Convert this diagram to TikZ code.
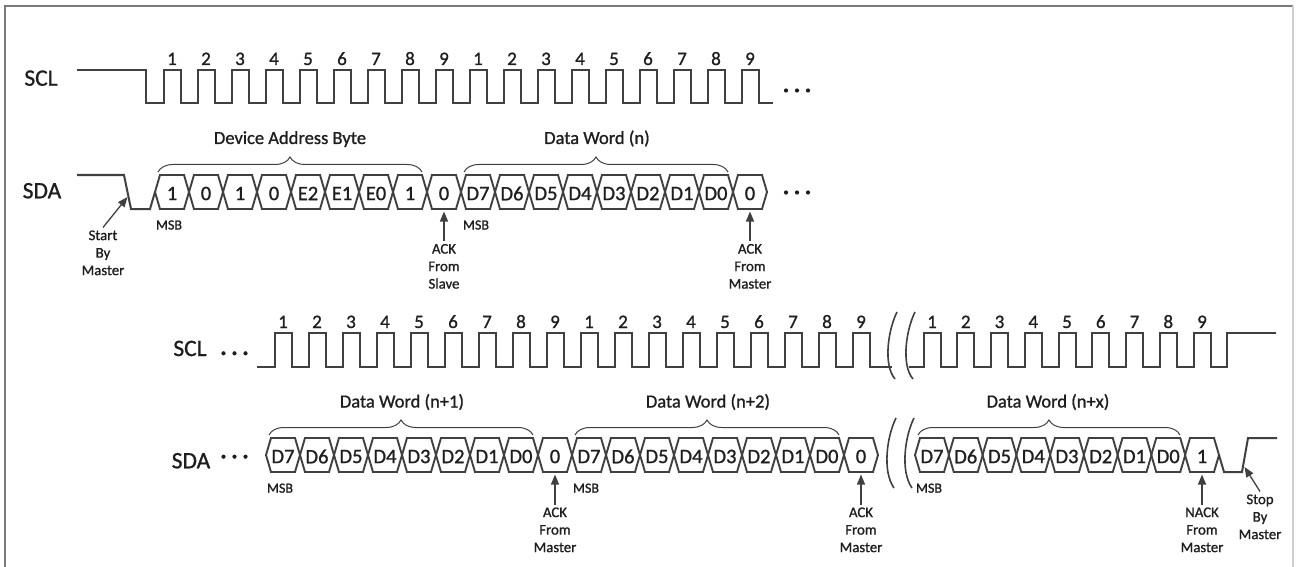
\documentclass[tikz,border=0pt]{standalone}
\usepackage{fontspec}
\setmainfont{Carlito}[RawFeature={embolden=1.0}]
\usetikzlibrary{arrows.meta,decorations.pathreplacing,calc}
\definecolor{wave}{HTML}{404040}
\definecolor{ink}{HTML}{1E1E1E}
\definecolor{framecol}{HTML}{7A7A7A}
\definecolor{framelight}{HTML}{D0D0D0}
\newcommand\bitcell[4]{%
  \draw[cell] ({#1-17},{#2+17}) -- ({#1-12},{#2}) -- ({#1+12},{#2}) -- ({#1+17},{#2+17}) -- ({#1+12},{#2+34}) -- ({#1-12},{#2+34}) -- cycle;
  \node[bit] (#4) at ({#1},{#2+18.5}) {#3};}
\begin{document}
\begin{tikzpicture}[x=1pt,y=-1pt,
 sig/.style={draw=wave,line width=2pt,line join=miter},
 cell/.style={draw=wave,line width=1.9pt,line join=miter},
 num/.style={font=\fontsize{19}{20}\selectfont,text=ink,inner sep=0pt,anchor=base},
 bit/.style={font=\fontsize{20.5}{22}\selectfont,text=ink,inner sep=0pt},
 signame/.style={font=\fontsize{23.5}{26}\selectfont,text=ink,inner sep=0pt,anchor=base},
 title/.style={font=\fontsize{18.5}{20}\selectfont,text=ink,inner sep=0pt,anchor=base},
 msb/.style={font=\fontsize{14}{15}\selectfont,text=ink,inner sep=0pt,anchor=base},
 note/.style={font=\fontsize{14.8}{17.5}\selectfont,text=ink,inner sep=0pt,outer sep=3pt,align=center,anchor=north},
 pointer/.style={draw=wave,line width=1.3pt,-{Triangle[width=8pt,length=10pt]}},
 grp/.style={draw=wave,line width=1pt,decorate,decoration={brace,amplitude=15pt}},
 cut/.style={draw=wave,line width=1.6pt},
 dot/.style={fill=ink},
]
\useasboundingbox (0,0) rectangle (1296,567);
% frame
\draw[framecol,line width=2pt] (5,567) -- (5,6) -- (1293,6);
\draw[framelight,line width=1.5pt] (1293,6) -- (1293,567);

% ---------- top row ----------
\node[signame] (sclA) at (41,85.7) {SCL};
\node[signame] (sdaA) at (42,198.3) {SDA};
\draw[sig] (77,70) -- (146,70) -- (146,103)
  foreach \k in {0,...,17} { -- ({163.5+34*\k},103) -- ({163.5+34*\k},70) -- ({180.5+34*\k},70) -- ({180.5+34*\k},103) }
  -- (773,103);
\foreach \n [count=\i from 0] in {1,2,3,4,5,6,7,8,9,1,2,3,4,5,6,7,8,9}
  \node[num] (ta\i) at ({172+34*\i},65) {\n};
\draw[sig] (77,175) -- (124,175) -- (131,209) -- (150,209) -- (155,192);
\foreach \lab [count=\i from 0] in {1,0,1,0,E2,E1,E0,1,0,D7,D6,D5,D4,D3,D2,D1,D0,0}{
  \pgfmathsetmacro\cx{172+34*\i}
  \bitcell{\cx}{175}{\lab}{tb\i}}
\foreach \x in {786,797,808} {\fill[dot] (\x,90.5) circle (2.1); \fill[dot] (\x,192.5) circle (2.1);}
\node[title] (devaddr) at (290,144) {Device Address Byte};
\node[title] (dwn) at (597,144) {Data Word (n)};
\draw[grp] (158,172) -- (422,172);
\draw[grp] (464,172) -- (728,172);
\node[msb] (msbA) at (169,229.5) {MSB};
\node[msb] (msbB) at (476,229.5) {MSB};
\node[note] (startm) at (103,227.5) {Start\\By\\Master};
\coordinate (startTip) at (127.5,197);
\draw[pointer] (startm.north) -- (startTip);
\node[note] (ackA) at (444,241) {ACK\\From\\Slave};
\coordinate (ackAtip) at (444,211.5);
\draw[pointer] (ackA.north) -- (ackAtip);
\node[note] (ackB) at (750,241) {ACK\\From\\Master};
\coordinate (ackBtip) at (750,211.5);
\draw[pointer] (ackB.north) -- (ackBtip);

% ---------- bottom row ----------
\node[signame] (sclB) at (190,356) {SCL};
\node[signame] (sdaB) at (191,468.3) {SDA};
\foreach \x in {223.5,234.5,245.5} {\fill[dot] (\x,353.3) circle (2.1); \fill[dot] (\x,456.7) circle (2.1);}
\draw[sig] (257,367)
  foreach \k in {0,...,17} { -- ({274.5+34*\k},367) -- ({274.5+34*\k},333) -- ({291.5+34*\k},333) -- ({291.5+34*\k},367) }
  -- (892,367);
\draw[sig] (909,367)
  foreach \k in {0,...,8} { -- ({923.5+33.75*\k},367) -- ({923.5+33.75*\k},333) -- ({940.5+33.75*\k},333) -- ({940.5+33.75*\k},367) }
  -- (1227.25,367) -- (1227.25,333) -- (1276,333);
\foreach \n [count=\i from 0] in {1,2,3,4,5,6,7,8,9,1,2,3,4,5,6,7,8,9}
  \node[num] (ba\i) at ({283+34*\i},328) {\n};
\foreach \n [count=\i from 0] in {1,2,3,4,5,6,7,8,9}
  \node[num] (ca\i) at ({932+33.75*\i},328) {\n};
\foreach \lab [count=\i from 0] in {D7,D6,D5,D4,D3,D2,D1,D0,0,D7,D6,D5,D4,D3,D2,D1,D0,0}{
  \pgfmathsetmacro\cx{283+34*\i}
  \bitcell{\cx}{438}{\lab}{bb\i}}
\foreach \lab [count=\i from 0] in {D7,D6,D5,D4,D3,D2,D1,D0,1}{
  \pgfmathsetmacro\cx{932+33.75*\i}
  \bitcell{\cx}{438}{\lab}{cb\i}}
\draw[sig] (1219,455) -- (1224,472) -- (1242,472) -- (1248,438) -- (1277,438);
% break marks
\draw[cut] (897,312) .. controls (888,330) and (883,365) .. (895,379);
\draw[cut] (915,312) .. controls (906,330) and (901,365) .. (913,379);
\draw[cut] (896,418) .. controls (887,436) and (882,471) .. (894,488);
\draw[cut] (914,418) .. controls (905,436) and (900,471) .. (912,488);
\node[title] (dwn1) at (402,407.5) {Data Word (n+1)};
\node[title] (dwn2) at (708,407.5) {Data Word (n+2)};
\node[title] (dwnx) at (1048,407.5) {Data Word (n+x)};
\draw[grp] (269,435) -- (533,435);
\draw[grp] (575,435) -- (839,435);
\draw[grp] (918,435) -- (1180,435);
\node[msb] (msbC) at (280,492.7) {MSB};
\node[msb] (msbD) at (586,492.7) {MSB};
\node[msb] (msbE) at (929,492.7) {MSB};
\node[note] (ackC) at (555,504.5) {ACK\\From\\Master};
\coordinate (ackCtip) at (555,474.5);
\draw[pointer] (ackC.north) -- (ackCtip);
\node[note] (ackD) at (861,504.5) {ACK\\From\\Master};
\coordinate (ackDtip) at (861,474.5);
\draw[pointer] (ackD.north) -- (ackDtip);
\node[note] (nackE) at (1202,504.5) {NACK\\From\\Master};
\coordinate (nackEtip) at (1202,474.5);
\draw[pointer] (nackE.north) -- (nackEtip);
\node[note] (stopm) at (1260,491.5) {Stop\\By\\Master};
\coordinate (stopTip) at (1244.5,467);
\draw[pointer] (stopm.north) -- (stopTip);
\end{tikzpicture}
\end{document}
